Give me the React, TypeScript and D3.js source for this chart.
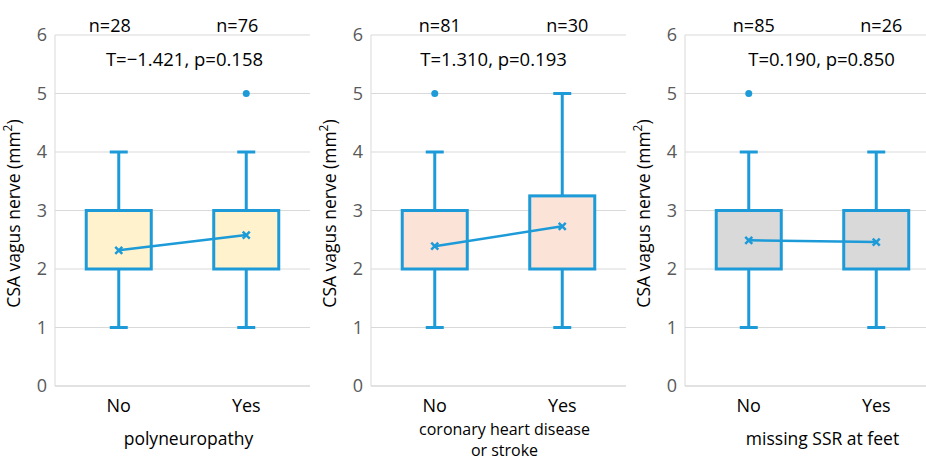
import React from 'react'
import * as d3 from 'd3'

// values
const categories = ['No', 'Yes']
const panelTitles = [['polyneuropathy'], ['coronary heart disease', 'or stroke'], ['missing SSR at feet']]
const nCounts = [[28, 76], [81, 30], [85, 26]]
const tStats = ['T=\u22121.421, p=0.158', 'T=1.310, p=0.193', 'T=0.190, p=0.850']
const mins = [[1, 1], [1, 1], [1, 1]]
const q1s = [[2, 2], [2, 2], [2, 2]]
const q3s = [[3, 3], [3, 3.25], [3, 3]]
const maxs = [[4, 4], [4, 5], [4, 4]]
const means = [[2.32, 2.58], [2.39, 2.73], [2.49, 2.46]]
const outliers = [[[], [5]], [[5], []], [[5], []]]
const yTicks = [0, 1, 2, 3, 4, 5, 6]

const fills = ['#fff2cc', '#fbe3d8', '#d9d9d9']
const blue = '#1c9bd8'
const font = "'Open Sans', sans-serif"

const W = 926
const H = 461
const plotLefts = [55, 371, 685]
const plotW = 255
const top = 35
const bottom = 386
// hand-placed annotation nudges, as in the original figure
const nDx = [-9, 5, 5]
const tDx = [2, -5, 9]
const titleDx = [6, 6, 10]

function Panel({ i }: { i: number }) {
  const left = plotLefts[i]
  const y = d3.scaleLinear().domain([0, 6]).range([bottom, top])
  const x = d3.scaleBand().domain(categories).range([left, left + plotW])
  const bw = x.bandwidth() * 0.51
  const cap = 9
  const cx = (c: string) => (x(c) as number) + x.bandwidth() / 2
  const meanLine = d3.line<number>()
    .x((d, k) => cx(categories[k]))
    .y(d => y(d))
  const mid = left + plotW / 2
  const twoLine = panelTitles[i].length > 1

  return (
    <g>
      {yTicks.map(t => (
        <g key={t}>
          {t > 0 && <line x1={left} x2={left + plotW} y1={y(t)} y2={y(t)} stroke="#d9d9d9" strokeWidth={1} />}
          <text x={left - 8} y={y(t)} dy="0.36em" textAnchor="end" fontSize={18} fill="#595959" fontFamily={font}>{t}</text>
        </g>
      ))}
      <line x1={left} x2={left} y1={top} y2={bottom} stroke="#d9d9d9" strokeWidth={1} />
      <line x1={left} x2={left + plotW} y1={bottom} y2={bottom} stroke="#d9d9d9" strokeWidth={1.5} />

      {categories.map((c, k) => {
        const xc = cx(c)
        return (
          <g key={c}>
            <line x1={xc} x2={xc} y1={y(maxs[i][k])} y2={y(q3s[i][k])} stroke={blue} strokeWidth={3} />
            <line x1={xc} x2={xc} y1={y(q1s[i][k])} y2={y(mins[i][k])} stroke={blue} strokeWidth={3} />
            <line x1={xc - cap} x2={xc + cap} y1={y(maxs[i][k])} y2={y(maxs[i][k])} stroke={blue} strokeWidth={3} />
            <line x1={xc - cap} x2={xc + cap} y1={y(mins[i][k])} y2={y(mins[i][k])} stroke={blue} strokeWidth={3} />
            <rect x={xc - bw / 2} y={y(q3s[i][k])} width={bw} height={y(q1s[i][k]) - y(q3s[i][k])}
              fill={fills[i]} stroke={blue} strokeWidth={3} />
            {outliers[i][k].map((o, j) => (
              <circle key={j} cx={xc} cy={y(o)} r={3.5} fill={blue} />
            ))}
            <text x={xc} y={411.5} textAnchor="middle" fontSize={18} fill="#000" fontFamily={font}>{c}</text>
            <text x={xc + nDx[i]} y={32} textAnchor="middle" fontSize={18} fill="#000" fontFamily={font}>n={nCounts[i][k]}</text>
          </g>
        )
      })}

      <path d={meanLine(means[i]) || ''} fill="none" stroke={blue} strokeWidth={2.5} />
      {means[i].map((m, k) => {
        const xc = cx(categories[k])
        const s = 3.5
        return (
          <path key={k} d={`M${xc - s},${y(m) - s}L${xc + s},${y(m) + s}M${xc - s},${y(m) + s}L${xc + s},${y(m) - s}`}
            stroke={blue} strokeWidth={2.5} />
        )
      })}

      <text x={mid + tDx[i]} y={66} textAnchor="middle" fontSize={18.5} fill="#000" fontFamily={font}>{tStats[i]}</text>
      <text transform={`translate(${left - 35},${(top + bottom) / 2 + 3}) rotate(-90)`} textAnchor="middle"
        fontSize={17.5} fill="#000" fontFamily={font}>
        CSA vagus nerve (mm<tspan baselineShift="super" fontSize={12}>2</tspan>)
      </text>
      {panelTitles[i].map((line, j) => (
        <text key={j} x={mid + titleDx[i]} y={twoLine ? 434.5 + j * 21.8 : 445}
          textAnchor="middle" fontSize={twoLine ? 16 : 17.5} fill="#000" fontFamily={font}>{line}</text>
      ))}
    </g>
  )
}

export default function App() {
  return (
    <svg width={W} height={H} style={{ position: 'absolute', left: 0, top: 0, background: '#fff' }}>
      <rect width={W} height={H} fill="#fff" />
      {panelTitles.map((_, i) => <Panel key={i} i={i} />)}
    </svg>
  )
}
